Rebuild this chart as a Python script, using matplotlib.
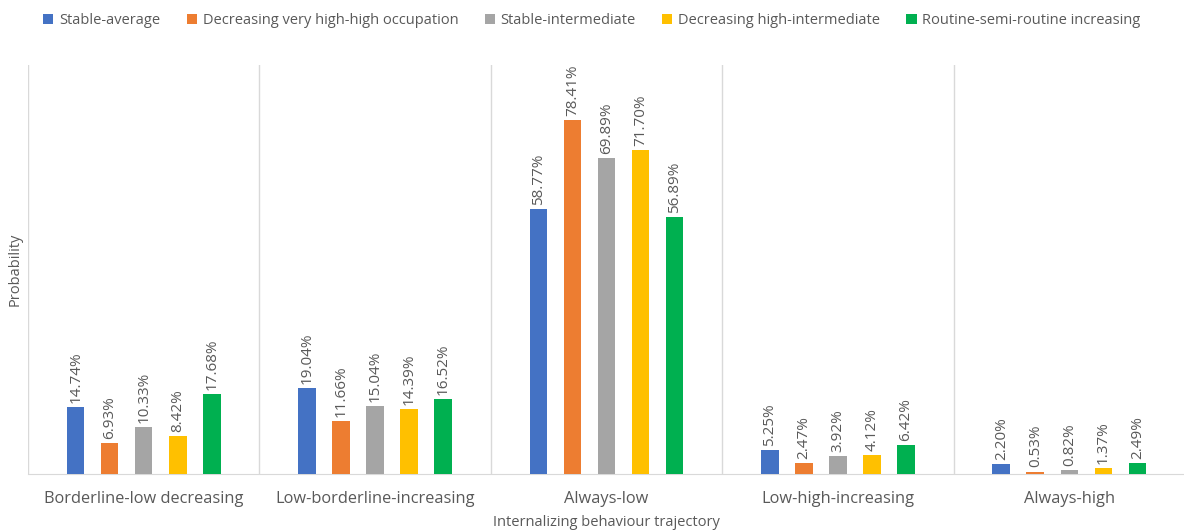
import matplotlib
matplotlib.use("Agg")
import matplotlib.pyplot as plt
import numpy as np

categories = ["Borderline-low decreasing", "Low-borderline-increasing", "Always-low",
              "Low-high-increasing", "Always-high"]
series = ["Stable-average", "Decreasing very high-high occupation", "Stable-intermediate",
          "Decreasing high-intermediate", "Routine-semi-routine increasing"]
stable_average = [14.74, 19.04, 58.77, 5.25, 2.20]
decreasing_very_high = [6.93, 11.66, 78.41, 2.47, 0.53]
stable_intermediate = [10.33, 15.04, 69.89, 3.92, 0.82]
decreasing_high_inter = [8.42, 14.39, 71.70, 4.12, 1.37]
routine_increasing = [17.68, 16.52, 56.89, 6.42, 2.49]
colors = ["#4472C4", "#ED7D31", "#A5A5A5", "#FFC000", "#00B050"]

values = [stable_average, decreasing_very_high, stable_intermediate,
          decreasing_high_inter, routine_increasing]

plt.rcParams["font.family"] = ["Open Sans", "DejaVu Sans"]
text_color = "#595959"

fig = plt.figure(figsize=(11.84, 5.31), dpi=100)
ax = fig.add_axes([28 / 1184, 57 / 531, 1157 / 1184, 409 / 531])

x = np.arange(len(categories))
step = 0.147
width = 0.076
for i, (name, vals, c) in enumerate(zip(series, values, colors)):
    pos = x + (i - 2) * step
    bars = ax.bar(pos, vals, width, color=c, label=name, zorder=3)
    for b, v in zip(bars, vals):
        ax.annotate(f"{v:.2f}%", (b.get_x() + b.get_width() / 2, v),
                    xytext=(0, 3), textcoords="offset points",
                    rotation=90, ha="center", va="bottom",
                    fontsize=11, color=text_color)

ax.set_xlim(-0.5, len(categories) - 0.5)
ax.set_ylim(0, 90.6)
for sep in np.arange(-0.5, len(categories), 1.0):
    ax.axvline(sep, color="#D9D9D9", lw=1, zorder=1)
for s in ["top", "right", "left"]:
    ax.spines[s].set_visible(False)
ax.spines["bottom"].set_color("#D9D9D9")
ax.set_yticks([])
ax.set_xticks(x)
ax.set_xticklabels(categories, fontsize=11.8, color=text_color)
ax.tick_params(axis="x", length=0, pad=12)
ax.set_xlabel("Internalizing behaviour trajectory", fontsize=10.5, color=text_color, labelpad=6)
ax.set_ylabel("Probability", fontsize=10.5, color=text_color, labelpad=4)

fig.legend(loc="upper center", bbox_to_anchor=(0.5, 1.0), ncol=5, frameon=False,
           fontsize=10.5, handlelength=0.7, handleheight=0.7, handletextpad=0.4,
           columnspacing=1.8, labelcolor=text_color)

fig.savefig("out.png", dpi=100)
